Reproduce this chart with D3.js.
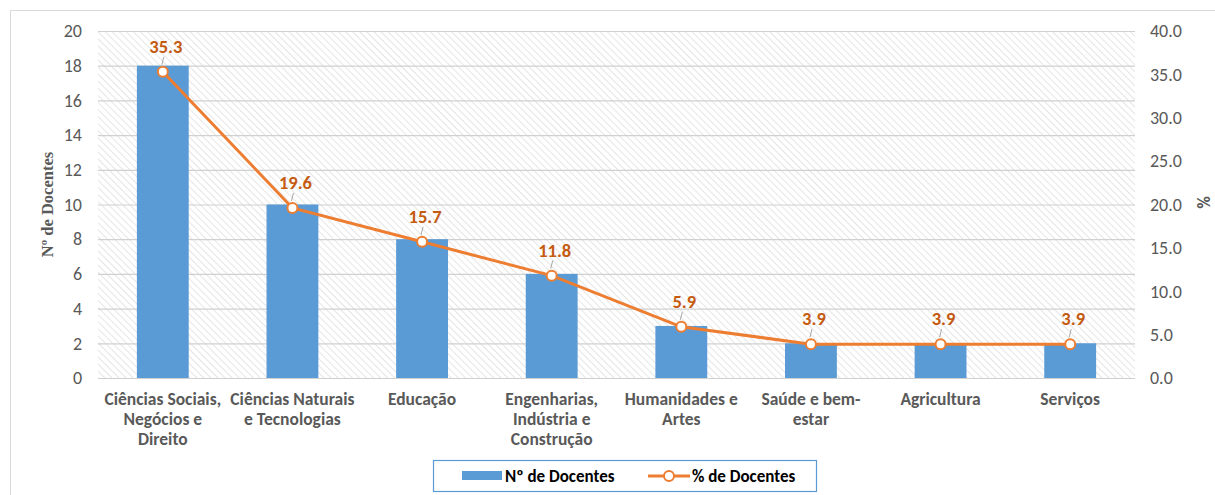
<!DOCTYPE html>
<html>
<head>
<meta charset="utf-8">
<script src="https://cdn.jsdelivr.net/npm/d3@7"></script>
<style>
  body { margin: 0; background: #fff; }
  svg { display: block; font-family: Calibri, Carlito, "Open Sans", sans-serif; }
</style>
</head>
<body>
<svg id="chart" width="1215" height="495"></svg>
<script>
// chart data
const categories = [
  ["Ciências Sociais,", "Negócios e", "Direito"],
  ["Ciências Naturais", "e Tecnologias"],
  ["Educação"],
  ["Engenharias,", "Indústria e", "Construção"],
  ["Humanidades e", "Artes"],
  ["Saúde e bem-", "estar"],
  ["Agricultura"],
  ["Serviços"]
];
const docentes = [18, 10, 8, 6, 3, 2, 2, 2];
const percent = [35.3, 19.6, 15.7, 11.8, 5.9, 3.9, 3.9, 3.9];
const leftTicks = [0, 2, 4, 6, 8, 10, 12, 14, 16, 18, 20];
const rightTicks = [0, 5, 10, 15, 20, 25, 30, 35, 40];

const svg = d3.select("#chart");
const margin = { left: 98, right: 80, top: 31, bottom: 117 };
const width = 1215 - margin.left - margin.right;
const height = 495 - margin.top - margin.bottom;

const blue = "#5B9BD5", orange = "#ED7D31", grey = "#595959";
const font = "Calibri, Carlito, 'Open Sans', sans-serif";

// outer frame
svg.append("rect")
  .attr("x", 10.5).attr("y", 10.5)
  .attr("width", 1215).attr("height", 495)
  .attr("fill", "none").attr("stroke", "#d9d9d9");

// hatch pattern for plot background
const defs = svg.append("defs");
const pat = defs.append("pattern")
  .attr("id", "hatch")
  .attr("patternUnits", "userSpaceOnUse")
  .attr("width", 5).attr("height", 5)
  .attr("patternTransform", "rotate(45)");
pat.append("line")
  .attr("x1", 0).attr("y1", 0).attr("x2", 5).attr("y2", 0)
  .attr("stroke", "#d4d4d4").attr("stroke-width", 1.2);

const g = svg.append("g").attr("transform", `translate(${margin.left},${margin.top})`);

const x = d3.scaleBand().domain(d3.range(categories.length)).range([0, width]).paddingInner(0.6).paddingOuter(0.3);
const y = d3.scaleLinear().domain([0, 20]).range([height, 0]);
const y2 = d3.scaleLinear().domain([0, 40]).range([height, 0]);

g.append("rect").attr("width", width).attr("height", height).attr("fill", "url(#hatch)");

// grid lines
g.append("g")
  .call(d3.axisLeft(y).tickValues(leftTicks).tickSize(-width).tickFormat(""))
  .call(a => a.select(".domain").remove())
  .call(a => a.selectAll("line").attr("stroke", "#d0d0d0").attr("stroke-width", 1.2));

// left axis
g.append("g")
  .call(d3.axisLeft(y).tickValues(leftTicks).tickSize(0).tickPadding(16))
  .call(a => a.select(".domain").remove())
  .call(a => a.selectAll("text").attr("fill", grey).style("font-size", "18px").style("font-family", font));

// right axis
g.append("g")
  .attr("transform", `translate(${width},0)`)
  .call(d3.axisRight(y2).tickValues(rightTicks).tickSize(0).tickPadding(15).tickFormat(d3.format(".1f")))
  .call(a => a.select(".domain").remove())
  .call(a => a.selectAll("text").attr("fill", grey).style("font-size", "18px").style("font-family", font));

// bars
g.selectAll(".bar").data(docentes).join("rect")
  .attr("class", "bar")
  .attr("x", (d, i) => x(i))
  .attr("y", d => y(d))
  .attr("width", x.bandwidth())
  .attr("height", d => height - y(d))
  .attr("fill", blue);

// x axis line
g.append("line").attr("x1", 0).attr("x2", width).attr("y1", height + 0.5).attr("y2", height + 0.5)
  .attr("stroke", "#d0d0d0").attr("stroke-width", 1.2);

// category labels
const cx = i => x(i) + x.bandwidth() / 2;
const lab = g.selectAll(".cat").data(categories).join("text")
  .attr("class", "cat")
  .attr("text-anchor", "middle")
  .attr("fill", grey)
  .style("font-size", "17.5px")
  .style("font-weight", "bold");
lab.each(function(d, i) {
  d3.select(this).selectAll("tspan").data(d).join("tspan")
    .attr("x", cx(i))
    .attr("y", (t, k) => height + 27 + k * 20)
    .text(t => t);
});

// line
const line = d3.line().x((d, i) => cx(i)).y(d => y2(d));
g.append("path").datum(percent)
  .attr("d", line)
  .attr("fill", "none")
  .attr("stroke", orange)
  .attr("stroke-width", 3);

// leader lines and data labels
g.selectAll(".leader").data(percent).join("line")
  .attr("x1", (d, i) => cx(i) - 1).attr("y1", d => y2(d) - 7)
  .attr("x2", (d, i) => cx(i) + 1).attr("y2", d => y2(d) - 15)
  .attr("stroke", "#a6a6a6").attr("stroke-width", 1);

g.selectAll(".plabel").data(percent).join("text")
  .attr("x", (d, i) => cx(i) + 3)
  .attr("y", d => y2(d) - 19)
  .attr("text-anchor", "middle")
  .attr("fill", "#C55A11")
  .style("font-size", "18.5px")
  .style("font-weight", "bold")
  .text(d => d3.format(".1f")(d));

g.selectAll(".dot").data(percent).join("circle")
  .attr("cx", (d, i) => cx(i))
  .attr("cy", d => y2(d))
  .attr("r", 5)
  .attr("fill", "#fff")
  .attr("stroke", orange)
  .attr("stroke-width", 2);

// axis titles
svg.append("text")
  .attr("transform", `translate(53,${margin.top + height / 2}) rotate(-90)`)
  .attr("text-anchor", "middle")
  .attr("fill", grey)
  .style("font-family", "'Liberation Serif', 'DejaVu Serif', serif")
  .style("font-size", "16.5px")
  .style("font-weight", "bold")
  .text("Nº de Docentes");

svg.append("text")
  .attr("transform", `translate(1197,${margin.top + height / 2 - 2}) rotate(90)`)
  .attr("text-anchor", "middle")
  .attr("fill", grey)
  .style("font-size", "17px")
  .style("font-weight", "bold")
  .text("%");

// legend
const lg = svg.append("g");
lg.append("rect").attr("x", 433.5).attr("y", 460.5).attr("width", 383).attr("height", 31)
  .attr("fill", "#fff").attr("stroke", "#5B9BD5").attr("stroke-width", 1.2);
lg.append("rect").attr("x", 462).attr("y", 471).attr("width", 40).attr("height", 9).attr("fill", blue);
lg.append("text").attr("x", 505).attr("y", 482).attr("fill", "#000")
  .style("font-size", "17px").style("font-weight", "bold").text("Nº de Docentes");
lg.append("line").attr("x1", 648).attr("x2", 690).attr("y1", 476).attr("y2", 476)
  .attr("stroke", orange).attr("stroke-width", 3);
lg.append("circle").attr("cx", 669).attr("cy", 476).attr("r", 5)
  .attr("fill", "#fff").attr("stroke", orange).attr("stroke-width", 2);
lg.append("text").attr("x", 692).attr("y", 482).attr("fill", "#000")
  .style("font-size", "17px").style("font-weight", "bold").text("% de Docentes");
</script>
</body>
</html>
